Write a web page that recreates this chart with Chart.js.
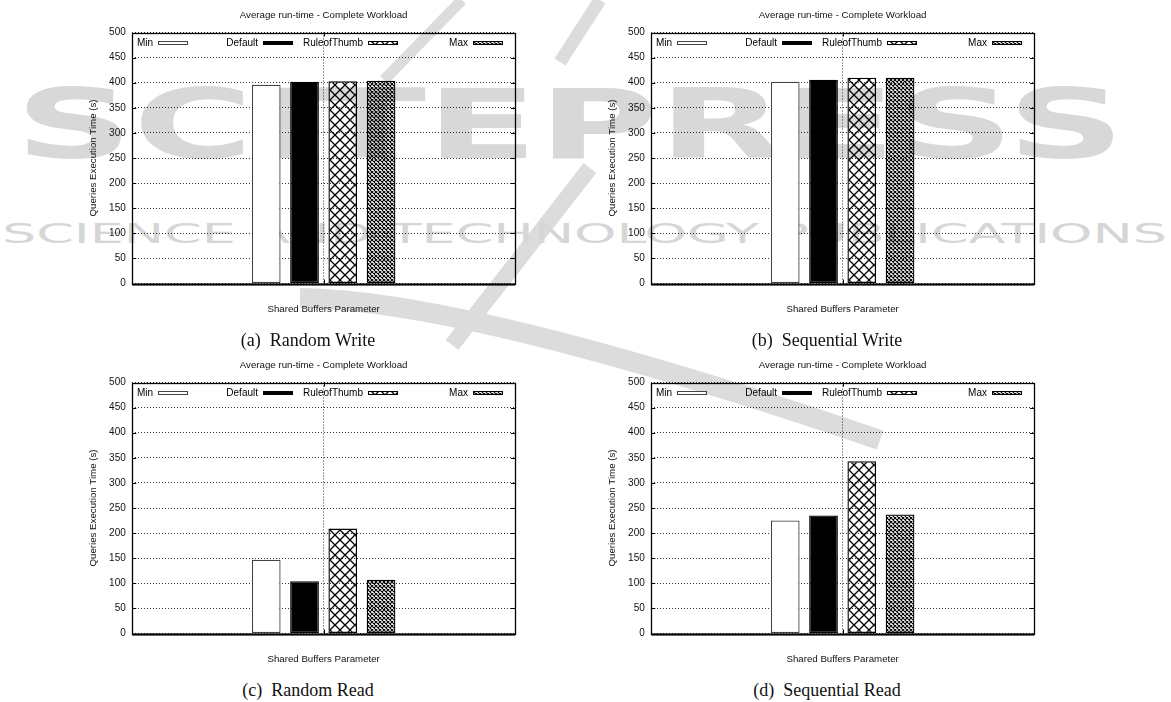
<!DOCTYPE html>
<html>
<head>
<meta charset="utf-8">
<script src="https://cdn.jsdelivr.net/npm/chart.js@4.4.1/dist/chart.umd.min.js"></script>
<style>
  html, body { margin: 0; padding: 0; background: #fff; }
  body { width: 1171px; height: 702px; position: relative; overflow: hidden; }
  #mark { position: absolute; left: 0; top: 0; z-index: 0; }
  .panel { position: absolute; width: 545px; height: 325px; z-index: 1; }
  .cap { position: absolute; z-index: 1; font-family: "Liberation Serif", "Times New Roman", serif;
         font-size: 18px; color: #111; white-space: pre; transform: translateX(-50%); line-height: 1; }
</style>
</head>
<body>
<svg id="mark" width="1171" height="702" xmlns="http://www.w3.org/2000/svg">
  <g fill="none" stroke="#dcdcdc" stroke-linecap="butt">
    <path d="M462 0 L384 80" stroke-width="11"/>
    <path d="M600 0 L560 62" stroke-width="13"/>
    <path d="M590 168 L452 345" stroke-width="16"/>
    <path d="M300 298 Q 470 300 880 440" stroke-width="20"/>
  </g>
  <text x="15" y="158" font-family="DejaVu Sans" font-weight="bold" font-size="96" fill="#d8d8d8"
        textLength="1110" lengthAdjust="spacingAndGlyphs">SCITEPRESS</text>
  <text x="2" y="243" font-family="DejaVu Sans" font-size="27" fill="#d6d6d6"
        textLength="1165" lengthAdjust="spacingAndGlyphs">SCIENCE AND TECHNOLOGY PUBLICATIONS</text>
</svg>

<div class="panel" style="left:0;top:0"><canvas id="c0" width="545" height="325"></canvas></div>
<div class="panel" style="left:519px;top:0"><canvas id="c1" width="545" height="325"></canvas></div>
<div class="panel" style="left:0;top:350px"><canvas id="c2" width="545" height="325"></canvas></div>
<div class="panel" style="left:519px;top:350px"><canvas id="c3" width="545" height="325"></canvas></div>

<div class="cap" style="left:308px;top:331px">(a)  Random Write</div>
<div class="cap" style="left:827px;top:331px">(b)  Sequential Write</div>
<div class="cap" style="left:308px;top:681px">(c)  Random Read</div>
<div class="cap" style="left:827px;top:681px">(d)  Sequential Read</div>

<script>
// Shared configuration values
const seriesNames = ['Min', 'Default', 'RuleofThumb', 'Max'];
const categories = [''];
const yTicks = [0, 50, 100, 150, 200, 250, 300, 350, 400, 450, 500];
const chartTitle = 'Average run-time - Complete Workload';
const xTitle = 'Shared Buffers Parameter';
const yTitle = 'Queries Execution Time (s)';

// Average run-time (s) per shared_buffers setting
const randomWrite     = [396, 402, 403, 404];
const sequentialWrite = [402, 406, 410, 410];
const randomRead      = [147, 104, 209, 107];
const sequentialRead  = [225, 235, 343, 237];

const FONT = '"Liberation Sans", Arial, Helvetica, sans-serif';

// cross-hatch fills with transparent gaps
function hatch(size, lw) {
  const c = document.createElement('canvas');
  c.width = c.height = size;
  const g = c.getContext('2d');
  g.strokeStyle = '#000';
  g.lineWidth = lw;
  g.beginPath();
  g.moveTo(0, 0); g.lineTo(size, size);
  g.moveTo(size, 0); g.lineTo(0, size);
  g.stroke();
  return g.createPattern(c, 'repeat');
}
const coarse = hatch(10, 1.3);
const fine = hatch(4, 1.1);

const fills   = ['#ffffff', '#000000', coarse, fine];
const borders = ['#444444', '#000000', '#000000', '#000000'];

// frame, inward tick marks and the one-row key inside the plot
const framePlugin = {
  id: 'frame',
  afterDatasetsDraw(chart) {
    const { ctx, chartArea: a } = chart;
    const y = chart.scales.y;
    ctx.save();
    ctx.strokeStyle = '#000';
    ctx.lineWidth = 1;
    ctx.beginPath();
    yTicks.forEach(v => {
      const p = Math.round(y.getPixelForValue(v)) + 0.5;
      ctx.moveTo(a.left, p); ctx.lineTo(a.left + 4, p);
      ctx.moveTo(a.right, p); ctx.lineTo(a.right - 4, p);
    });
    const cx = Math.round((a.left + a.right) / 2) + 0.5;
    ctx.moveTo(cx, a.bottom); ctx.lineTo(cx, a.bottom - 4);
    ctx.moveTo(cx, a.top); ctx.lineTo(cx, a.top + 4);
    ctx.stroke();
    ctx.lineWidth = 1.3;
    ctx.strokeRect(Math.round(a.left) + 0.5, Math.round(a.top) + 0.5,
                   Math.round(a.right - a.left), Math.round(a.bottom - a.top));
    ctx.beginPath();
    ctx.lineWidth = 2;
    ctx.moveTo(a.left, Math.round(a.bottom) + 0.5);
    ctx.lineTo(a.right, Math.round(a.bottom) + 0.5);
    ctx.stroke();

    // key
    ctx.font = '10px ' + FONT;
    ctx.textAlign = 'right';
    ctx.textBaseline = 'middle';
    chart.data.datasets.forEach((ds, i) => {
      const sx = Math.round(a.left + 25.5 + i * 105);
      const sy = Math.round(a.top + 8);
      ctx.fillStyle = '#000';
      ctx.fillText(ds.label, sx - 5, a.top + 11);
      ctx.fillStyle = ds.backgroundColor;
      ctx.fillRect(sx, sy, 30, 4);
      ctx.lineWidth = 1;
      ctx.strokeStyle = ds.borderColor;
      ctx.strokeRect(sx + 0.5, sy + 0.5, 29, 3);
    });
    ctx.restore();
  }
};

function makeChart(id, values) {
  const datasets = seriesNames.map((name, i) => ({
    label: name,
    data: [values[i]],
    backgroundColor: fills[i],
    borderColor: borders[i],
    borderWidth: 1.3,
    borderSkipped: false,
    categoryPercentage: 0.4,
    barPercentage: 0.75
  }));
  const dotted = { color: 'rgba(0,0,0,0.8)', lineWidth: 1, drawTicks: false };
  return new Chart(document.getElementById(id), {
    type: 'bar',
    data: { labels: categories, datasets },
    plugins: [framePlugin],
    options: {
      responsive: false,
      animation: false,
      layout: { padding: { left: 80, right: 30, top: 0, bottom: 0 } },
      plugins: {
        legend: { display: false },
        tooltip: { enabled: false },
        title: {
          display: true, text: chartTitle, fullSize: false, color: '#111',
          font: { family: FONT, size: 9.7, weight: 'normal', lineHeight: 1.2 },
          padding: { top: 10, bottom: 10.86 }
        }
      },
      scales: {
        x: {
          offset: true,
          grid: Object.assign({ offset: false }, dotted),
          border: { display: false, dash: [1, 2] },
          ticks: { display: false },
          title: { display: true, text: xTitle, color: '#111',
                   font: { family: FONT, size: 9.7 }, padding: { top: 0, bottom: 9.9 } },
          afterFit(s) { s.height = 41.5; }
        },
        y: {
          min: 0, max: 500,
          afterBuildTicks(s) { s.ticks = yTicks.map(v => ({ value: v })); },
          grid: dotted,
          border: { display: false, dash: [1, 2] },
          ticks: { color: '#111', padding: 6.5, font: { family: FONT, size: 10 } },
          title: { display: true, text: yTitle, color: '#111',
                   font: { family: FONT, size: 9.7 }, padding: { top: 7.5, bottom: 0 } },
          afterFit(s) { s.width = 52.3; }
        }
      }
    }
  });
}

// dotted grid pattern
Chart.defaults.scale.grid.borderDash = [1, 2];
Chart.defaults.font.family = FONT;

makeChart('c0', randomWrite);
makeChart('c1', sequentialWrite);
makeChart('c2', randomRead);
makeChart('c3', sequentialRead);
</script>
</body>
</html>
